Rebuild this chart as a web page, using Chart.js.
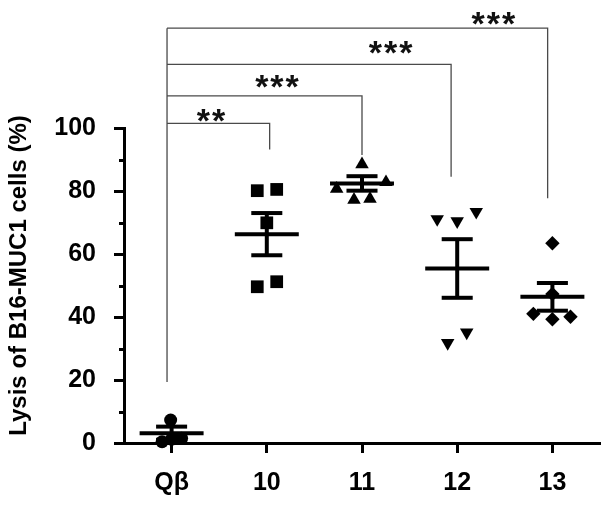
<!DOCTYPE html>
<html><head><meta charset="utf-8">
<script src="https://cdn.jsdelivr.net/npm/chart.js@4.4.1/dist/chart.umd.min.js"></script>
<style>html,body{margin:0;padding:0;background:#fff}canvas{display:block}</style>
</head><body>
<canvas id="c" width="613" height="507"></canvas>
<script>
// ---- data ----
const categories = ['Qβ', '10', '11', '12', '13'];
const valuesQb  = [7.3, 0.4, 1.2, 1.5];
const values10  = [80.1, 80.5, 69.9, 49.6, 51.2];
const values11  = [88.5, 80.7, 82.8, 77.2, 77.5];
const values12  = [71.1, 70.4, 73.4, 35.1, 31.8];
const values13  = [63.4, 41.0, 39.3, 40.1, 47.3];
// horizontal scatter of the points within each group (category units)
const jitterQb  = [-0.01, -0.10, 0.0, 0.105];
const jitter10  = [-0.10, 0.104, 0.0, -0.10, 0.104];
const jitter11  = [0.0, -0.266, 0.252, -0.084, 0.084];
const jitter12  = [-0.21, 0.0, 0.20, 0.10, -0.10];
const jitter13  = [0.0, -0.20, 0.0, 0.19, 0.0];
const means = [3.1, 66.3, 82.4, 55.4, 46.4];
const sems  = [2.1, 6.7, 2.3, 9.3, 4.4];
const yTickLabels = [0, 20, 40, 60, 80, 100];
const yMinorTicks = [10, 30, 50, 70, 90];
const sigLabels  = ['**', '***', '***', '***'];
const sigTargets = [1, 2, 3, 4];
// bracket geometry (data units)
const bracketLevels = [101.5, 110.2, 120.2, 131.7];
const bracketDrops  = [93.2, 91.4, 84.5, 77.7];
const bracketLeftBottom = 19.4;
const bracketRightShift = [0.03, 0.0, -0.064, -0.05];
const bracketLeftShift = -0.048;
const sigLabelX = [0.414, 1.107, 2.30, 3.38];
const sigLabelY = [104.1, 114.9, 125.5, 134.8];

const FONT = 'Liberation Sans, Arial, Helvetica, sans-serif';

const groups = [
  {vals: valuesQb, jit: jitterQb, style: 'circle', r: 6.5, rot: 0},
  {vals: values10, jit: jitter10, style: 'rect', r: 9, rot: 0},
  {vals: values11, jit: jitter11, style: 'triangle', r: 7.8, rot: 0},
  {vals: values12, jit: jitter12, style: 'triangle', r: 7.8, rot: 180},
  {vals: values13, jit: jitter13, style: 'rectRot', r: 7.2, rot: 0}
];

const datasets = [];
const MEAN_HALF = 0.336, CAP_HALF = 0.163;
categories.forEach((c, i) => {
  const m = means[i], s = sems[i];
  const seg = (pts) => ({type: 'line', data: pts, borderColor: '#000', borderWidth: 4,
    pointRadius: 0, fill: false, clip: false, borderCapStyle: 'butt', tension: 0});
  datasets.push(seg([{x: i - MEAN_HALF, y: m}, {x: i + MEAN_HALF, y: m}]));
  datasets.push(seg([{x: i - CAP_HALF, y: m + s}, {x: i + CAP_HALF, y: m + s}]));
  datasets.push(seg([{x: i - CAP_HALF, y: m - s}, {x: i + CAP_HALF, y: m - s}]));
  datasets.push(seg([{x: i, y: m - s}, {x: i, y: m + s}]));
});
groups.forEach((g, i) => {
  datasets.push({
    type: 'scatter',
    data: g.vals.map((v, j) => ({x: i + g.jit[j], y: v})),
    pointStyle: g.style, pointRadius: g.r, pointRotation: g.rot,
    backgroundColor: '#000', borderColor: '#000', borderWidth: 0, clip: false
  });
});

const annotPlugin = {
  id: 'annot',
  afterDraw(chart) {
    const {ctx, scales: {x, y}, chartArea} = chart;
    ctx.save();
    // minor ticks on y axis
    ctx.strokeStyle = '#000'; ctx.lineWidth = 3;
    ctx.beginPath();
    yMinorTicks.forEach(v => {
      const py = Math.round(y.getPixelForValue(v)) + 0.5;
      ctx.moveTo(chartArea.left - 5, py); ctx.lineTo(chartArea.left, py);
    });
    ctx.stroke();
    // significance brackets
    ctx.strokeStyle = '#4a4a4a'; ctx.lineWidth = 1.3;
    ctx.beginPath();
    const lx = x.getPixelForValue(bracketLeftShift);
    ctx.moveTo(lx, y.getPixelForValue(bracketLevels[bracketLevels.length - 1]));
    ctx.lineTo(lx, y.getPixelForValue(bracketLeftBottom));
    sigTargets.forEach((t, i) => {
      const py = y.getPixelForValue(bracketLevels[i]);
      const rx = x.getPixelForValue(t + bracketRightShift[i]);
      ctx.moveTo(lx, py); ctx.lineTo(rx, py);
      ctx.lineTo(rx, y.getPixelForValue(bracketDrops[i]));
    });
    ctx.stroke();
    ctx.fillStyle = '#111';
    ctx.font = 'bold 34px ' + FONT;
    ctx.letterSpacing = '2px';
    ctx.textAlign = 'center';
    ctx.textBaseline = 'alphabetic';
    sigLabels.forEach((s, i) => {
      const m = ctx.measureText(s);
      const px = x.getPixelForValue(sigLabelX[i]) + 1;
      const py = y.getPixelForValue(sigLabelY[i]);
      const base = py - (m.actualBoundingBoxDescent - m.actualBoundingBoxAscent) / 2;
      ctx.fillText(s, px, base);
    });
    ctx.restore();
  }
};

new Chart(document.getElementById('c'), {
  type: 'scatter',
  data: {datasets},
  plugins: [annotPlugin],
  options: {
    responsive: false, animation: false, devicePixelRatio: 1,
    layout: {padding: {top: 128, right: 13, bottom: 0, left: 0}},
    plugins: {legend: {display: false}, tooltip: {enabled: false}},
    scales: {
      x: {
        type: 'linear', min: -0.5, max: 4.5,
        afterBuildTicks: (s) => { s.ticks = categories.map((c, i) => ({value: i})); },
        afterFit: (s) => { s.height = 64; },
        border: {display: true, width: 3, color: '#000'},
        grid: {drawOnChartArea: false, drawTicks: true, tickLength: 10, tickWidth: 3, tickColor: '#000'},
        ticks: {autoSkip: false, maxRotation: 0, padding: 15, color: '#000',
          font: {family: FONT, size: 25, weight: 'bold'},
          callback: (v) => categories[v] !== undefined ? categories[v] : ''}
      },
      y: {
        type: 'linear', min: 0, max: 100,
        afterBuildTicks: (s) => {
          const t = yTickLabels.concat(yMinorTicks).sort((a, b) => a - b);
          s.ticks = t.map(v => ({value: v}));
        },
        afterFit: (s) => { s.width = 124; },
        border: {display: true, width: 3, color: '#000'},
        grid: {drawOnChartArea: false, drawTicks: true, tickLength: 10, tickWidth: 3,
          tickColor: (c) => yTickLabels.includes(c.tick && c.tick.value) ? '#000' : 'rgba(0,0,0,0)'},
        ticks: {autoSkip: false, padding: 18, color: '#000',
          font: {family: FONT, size: 25, weight: 'bold'},
          callback: (v) => yTickLabels.includes(v) ? String(v) : ''},
        title: {display: true, text: '\u00a0\u00a0\u00a0Lysis of B16-MUC1 cells (%)', color: '#000',
          font: {family: FONT, size: 24, weight: 'bold'}, padding: {top: 5, bottom: 0}}
      }
    }
  }
});
</script>
</body></html>
